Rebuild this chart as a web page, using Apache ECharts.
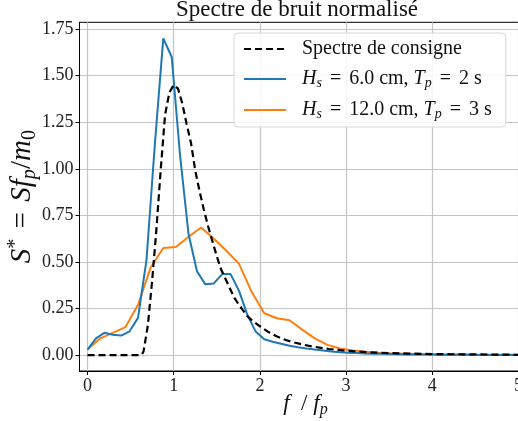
<!DOCTYPE html>
<html lang="fr">
<head>
    <meta charset="UTF-8">
    <title>Spectre de bruit normalisé</title>
    <script src="https://cdn.jsdelivr.net/npm/echarts@6/dist/echarts.min.js"></script>
    <style>
        html, body { margin: 0; padding: 0; background: #fff; }
        #main { width: 518px; height: 421px; }
    </style>
</head>
<body>
<div id="main"></div>
<script>
    // ticks
    var xTicks = [0, 1, 2, 3, 4, 5];
    var yTicks = [0, 0.25, 0.5, 0.75, 1.0, 1.25, 1.5, 1.75];

    // reference spectrum (dashed)
    var refX = [0, 0.3, 0.6, 0.63, 0.65, 0.7, 0.75, 0.8, 0.85, 0.9, 0.95, 1.0, 1.05, 1.1, 1.15, 1.2, 1.25,
        1.3, 1.35, 1.4, 1.45, 1.5, 1.55, 1.6, 1.65, 1.7, 1.75, 1.8, 1.85, 1.9, 2.0, 2.1, 2.2, 2.3, 2.4,
        2.5, 2.6, 2.8, 3.0, 3.25, 3.5, 4.0, 4.5, 5.0, 5.2];
    var refY = [0, 0, 0, 0.003, 0.02, 0.16, 0.40, 0.68, 1.0, 1.29, 1.41, 1.45, 1.43, 1.35, 1.24, 1.14, 0.99,
        0.88, 0.78, 0.69, 0.61, 0.53, 0.46, 0.41, 0.36, 0.31, 0.275, 0.243, 0.212, 0.19, 0.155, 0.124, 0.1, 0.081, 0.068,
        0.057, 0.047, 0.033, 0.024, 0.016, 0.011, 0.006, 0.004, 0.002, 0.002];

    // Hs = 6.0 cm, Tp = 2 s
    var blueX = [0, 0.098, 0.195, 0.293, 0.391, 0.488, 0.586, 0.684, 0.781, 0.879, 0.977, 1.074, 1.172,
        1.270, 1.367, 1.465, 1.563, 1.660, 1.758, 1.855, 1.953, 2.051, 2.148, 2.246, 2.344, 2.441, 2.539,
        2.637, 2.734, 2.832, 2.930, 3.027, 3.125, 3.223, 3.320, 3.418, 3.516, 3.613, 3.711, 3.809, 3.906,
        4.004, 4.102, 4.199, 4.297, 4.395, 4.492, 4.590, 4.688, 4.785, 4.883, 4.980, 5.078, 5.176];
    var blueY = [0.03, 0.09, 0.12, 0.11, 0.105, 0.128, 0.20, 0.51, 1.13, 1.70, 1.60, 1.07, 0.65,
        0.45, 0.38, 0.385, 0.435, 0.435, 0.345, 0.215, 0.125, 0.085, 0.072, 0.061, 0.051, 0.043, 0.036,
        0.03, 0.025, 0.02, 0.016, 0.013, 0.011, 0.009, 0.008, 0.007, 0.006, 0.005, 0.004, 0.004, 0.003,
        0.003, 0.002, 0.002, 0.002, 0.002, 0.001, 0.001, 0.001, 0.001, 0.001, 0.001, 0.001, 0.001];

    // Hs = 12.0 cm, Tp = 3 s
    var orangeX = [0, 0.146, 0.293, 0.439, 0.586, 0.732, 0.879, 1.025, 1.172, 1.318, 1.465, 1.611, 1.758,
        1.904, 2.051, 2.197, 2.344, 2.490, 2.637, 2.783, 2.930, 3.076, 3.223, 3.369, 3.516, 3.662, 3.809,
        3.955, 4.102, 4.248, 4.395, 4.541, 4.687, 4.834, 4.980, 5.127];
    var orangeY = [0.03, 0.09, 0.12, 0.15, 0.27, 0.47, 0.575, 0.58, 0.635, 0.685, 0.625, 0.56, 0.49,
        0.34, 0.225, 0.198, 0.187, 0.137, 0.09, 0.055, 0.036, 0.025, 0.018, 0.013, 0.01, 0.008, 0.006,
        0.005, 0.004, 0.003, 0.003, 0.002, 0.002, 0.002, 0.002, 0.002];

    var names = ['Spectre de consigne', 'Hs6', 'Hs12'];

    function pairs(xs, ys) {
        var out = [];
        for (var i = 0; i < xs.length; i++) {
            out.push([xs[i], ys[i]]);
        }
        return out;
    }

    var serif = 'Liberation Serif';
    var mathRich = function (size, lh) {
        return {
            r: {fontFamily: serif, fontSize: size, lineHeight: lh, color: '#111'},
            eq: {fontFamily: serif, fontSize: size, lineHeight: lh, color: '#111', padding: [0, 3, 0, 3]},
            i: {fontFamily: serif, fontSize: size, fontStyle: 'italic', lineHeight: lh, color: '#111'},
            sub: {fontFamily: serif, fontSize: size * 0.7, fontStyle: 'italic', lineHeight: lh / 2,
                verticalAlign: 'bottom', color: '#111'},
            subr: {fontFamily: serif, fontSize: size * 0.7, lineHeight: lh / 2, verticalAlign: 'bottom', color: '#111'},
            sup: {fontFamily: serif, fontSize: size * 0.7, lineHeight: lh / 2, verticalAlign: 'top', color: '#111'},
            gap: {width: 11}
        };
    };

    var chart = echarts.init(document.getElementById('main'));
    var option = {
        animation: false,
        backgroundColor: '#fff',
        title: {
            text: 'Spectre de bruit normalisé',
            left: 176,
            top: -2,
            padding: 0,
            textStyle: {fontFamily: serif, fontSize: 23, fontWeight: 'normal', color: '#111'}
        },
        grid: {
            left: 79.5,
            right: -13.4,
            top: 22.3,
            bottom: 50,
            containLabel: false,
            outerBoundsMode: 'none',
            show: true,
            borderColor: '#000',
            borderWidth: 1
        },
        legend: {
            orient: 'vertical',
            left: 234,
            top: 33,
            padding: [6, 14, 6, 9],
            itemWidth: 42,
            itemHeight: 12,
            itemGap: 10,
            borderColor: '#d8d8d8',
            borderWidth: 1,
            borderRadius: 4,
            backgroundColor: 'rgba(255,255,255,0.85)',
            itemStyle: {opacity: 0},
            data: names,
            formatter: function (name) {
                if (name === 'Hs6') {
                    return '{gap|}{i|H}{sub|s}{eq| = }{r|6.0 cm, }{i|T}{sub|p}{eq| = }{r|2 s}';
                }
                if (name === 'Hs12') {
                    return '{gap|}{i|H}{sub|s}{eq| = }{r|12.0 cm, }{i|T}{sub|p}{eq| = }{r|3 s}';
                }
                return '{gap|}{r|' + name + '}';
            },
            textStyle: {fontFamily: serif, fontSize: 20, color: '#111', rich: mathRich(20, 22)}
        },
        xAxis: {
            type: 'value',
            min: -0.093,
            max: 5.15,
            name: '{i|f}{r|  / }{i|f}{sub|p}',
            nameLocation: 'middle',
            nameGap: 19,
            nameMoveOverlap: false,
            nameTextStyle: {rich: mathRich(23, 28), verticalAlign: 'top'},
            axisLine: {show: true, onZero: false, lineStyle: {color: '#000', width: 1}},
            axisTick: {show: true, length: 4, customValues: xTicks, lineStyle: {color: '#000'}},
            axisLabel: {
                customValues: xTicks,
                fontFamily: serif,
                fontSize: 18,
                color: '#222',
                margin: 6
            },
            splitLine: {show: true, lineStyle: {color: '#c4c4c4', width: 1.2}}
        },
        yAxis: {
            type: 'value',
            min: -0.085,
            max: 1.786,
            name: '{i|S}{sup|*}{eq| = }{i|Sf}{sub|p}{r|/}{i|m}{subr|0}',
            nameLocation: 'middle',
            nameRotate: 90,
            nameGap: 40,
            nameMoveOverlap: false,
            nameTextStyle: {rich: mathRich(29, 34)},
            axisLine: {show: true, onZero: false, lineStyle: {color: '#000', width: 1}},
            axisTick: {show: true, length: 4, customValues: yTicks, lineStyle: {color: '#000'}},
            axisLabel: {
                customValues: yTicks,
                fontFamily: serif,
                fontSize: 18,
                color: '#222',
                margin: 6,
                formatter: function (v) { return v.toFixed(2); }
            },
            splitLine: {show: true, lineStyle: {color: '#c4c4c4', width: 1.2}}
        },
        series: [
            {
                name: names[0],
                type: 'line',
                symbol: 'none',
                z: 4,
                data: pairs(refX, refY),
                lineStyle: {color: '#000', width: 2.2, type: [7, 4]},
                itemStyle: {color: '#000'}
            },
            {
                name: names[1],
                type: 'line',
                symbol: 'none',
                z: 3,
                data: pairs(blueX, blueY),
                lineStyle: {color: '#1f77b4', width: 2},
                itemStyle: {color: '#1f77b4'}
            },
            {
                name: names[2],
                type: 'line',
                symbol: 'none',
                z: 2,
                data: pairs(orangeX, orangeY),
                lineStyle: {color: '#ff7f0e', width: 2},
                itemStyle: {color: '#ff7f0e'}
            }
        ]
    };
    chart.setOption(option);
</script>
</body>
</html>
